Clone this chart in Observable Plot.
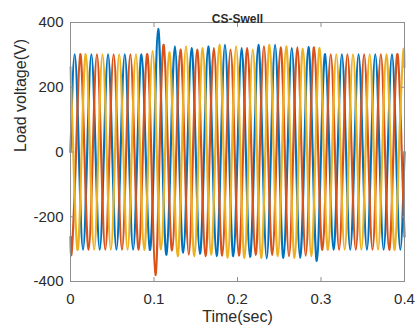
<!DOCTYPE html>
<html><head><meta charset="utf-8">
<script src="https://cdn.jsdelivr.net/npm/d3@7"></script>
<script src="https://cdn.jsdelivr.net/npm/@observablehq/plot@0.6"></script>
<style>body{margin:0;background:#fff} #chart svg{display:block}</style>
</head><body><div id="chart"></div>
<script>
// Time axis: key points (zero crossings and peaks) every 5 ms, per phase offset
const tEnd = 0.4;
const dt = 0.005;
const phases = ["Va", "Vb", "Vc"];
const colors = ["#0072BD", "#D95319", "#EDB120"];
const starts = [0, 0.0016667, 0.0033333];
const xTicks = [0, 0.1, 0.2, 0.3, 0.4];
const yTicks = [-400, -200, 0, 200, 400];

// Phase A (blue): values at t = 0, 0.005, ..., 0.4
const va = [0, 302, 0, -302, 0, 302, 0, -302, 0, 302, 0, -302, 0, 302, 0, -302, 0, 302, 0, -302,
  0, 380, 0, -317, 0, 326, 0, -311, 0, 321, 0, -315, 0, 326, 0, -322, 0, 331, 0, -322,
  0, 321, 0, -324, 0, 331, 0, -329, 0, 331, 0, -327, 0, 321, 0, -327, 0, 324, 0, -336,
  0, 302, 0, -302, 0, 302, 0, -302, 0, 302, 0, -302, 0, 302, 0, -302, 0, 302, 0, -302, 0];
// Phase B (orange): value at t=0, key points from 0.0016667 every 5 ms, value at t=0.4
const vb = [-262,
  -302, 0, 302, 0, -302, 0, 302, 0, -302, 0, 302, 0, -302, 0, 302, 0, -302, 0, 302, 0,
  -380, 0, 331, 0, -304, 0, 316, 0, -317, 0, 316, 0, -322, 0, 321, 0, -320, 0, 316, 0,
  -320, 0, 321, 0, -318, 0, 326, 0, -318, 0, 323, 0, -322, 0, 323, 0, -320, 0, 323, 0,
  -302, 0, 302, 0, -302, 0, 302, 0, -302, 0, 302, 0, -302, 0, 302, 0, -302, 0, 302, 0,
  -262];
// Phase C (yellow): value at t=0, key points from 0.0033333 every 5 ms, value at t=0.4
const vc = [262,
  0, -302, 0, 302, 0, -302, 0, 302, 0, -302, 0, 302, 0, -302, 0, 302, 0, -302, 0, 312,
  0, -301, 0, 308, 0, -322, 0, 326, 0, -322, 0, 321, 0, -317, 0, 331, 0, -327, 0, 326,
  0, -327, 0, 316, 0, -327, 0, 331, 0, -322, 0, 326, 0, -327, 0, 319, 0, -322, 0, 321,
  0, -302, 0, 302, 0, -302, 0, 302, 0, -302, 0, 302, 0, -302, 0, 302, 0, -302, 0, 302,
  262];

const rows = [];
va.forEach((v, i) => rows.push({phase: phases[0], t: starts[0] + i * dt, v}));
[vb, vc].forEach((arr, p) => {
  const n = arr.length;
  arr.forEach((v, i) => {
    const t = i === 0 ? 0 : i === n - 1 ? tEnd : starts[p + 1] + (i - 1) * dt;
    rows.push({phase: phases[p + 1], t, v});
  });
});

const frameColor = "#8f8f8f";
const fmt = d => String(d);
const chart = Plot.plot({
  width: 416, height: 334,
  marginLeft: 70, marginRight: 12, marginTop: 22, marginBottom: 53,
  style: {fontFamily: "'Liberation Sans', Arial, sans-serif", color: "#2b2b2b", background: "#fff"},
  x: {domain: [0, tEnd]},
  y: {domain: [-400, 400]},
  color: {domain: phases, range: colors},
  marks: [
    Plot.line(rows, {x: "t", y: "v", z: "phase", stroke: "phase", strokeWidth: 2.2, curve: "natural"}),
    Plot.frame({stroke: frameColor}),
    Plot.axisX(xTicks, {anchor: "bottom", tickSize: -4, stroke: frameColor, fill: "none"}),
    Plot.axisX(xTicks, {anchor: "top", tickSize: -4, stroke: frameColor, fill: "none"}),
    Plot.axisX(xTicks, {anchor: "bottom", tickSize: 0, tickPadding: 12, fontSize: 15, tickFormat: fmt, label: null}),
    Plot.axisY(yTicks, {anchor: "left", tickSize: -4, stroke: frameColor, fill: "none"}),
    Plot.axisY(yTicks, {anchor: "right", tickSize: -4, stroke: frameColor, fill: "none"}),
    Plot.axisY(yTicks, {anchor: "left", tickSize: 0, tickPadding: 7, fontSize: 15, tickFormat: fmt, label: null}),
    Plot.text(["CS-Swell"], {frameAnchor: "top", dy: -8, fontWeight: "bold", fontSize: 12}),
    Plot.text(["Time(sec)"], {frameAnchor: "bottom", dy: 40, fontSize: 16}),
    Plot.text(["Load voltage(V)"], {frameAnchor: "left", dx: -50, rotate: -90, fontSize: 16})
  ]
});
document.getElementById("chart").appendChild(chart);
</script>
</body></html>
